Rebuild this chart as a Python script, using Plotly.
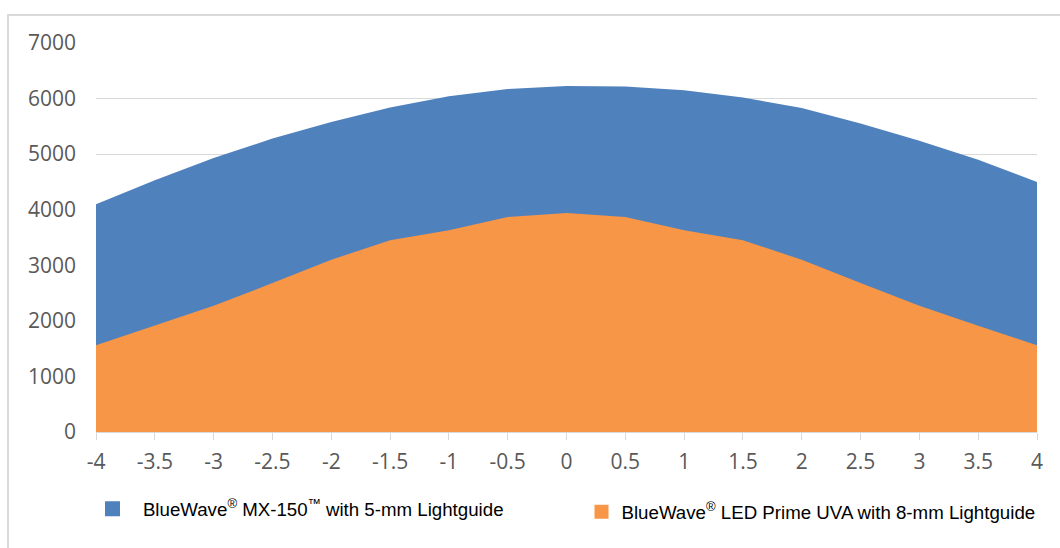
import plotly.graph_objects as go

# ---- data ----
x_vals = [-4, -3.5, -3, -2.5, -2, -1.5, -1, -0.5, 0, 0.5, 1, 1.5, 2, 2.5, 3, 3.5, 4]
x_labels = ["-4", "-3.5", "-3", "-2.5", "-2", "-1.5", "-1", "-0.5", "0",
            "0.5", "1", "1.5", "2", "2.5", "3", "3.5", "4"]
mx150 = [4100, 4530, 4930, 5280, 5580, 5840, 6040, 6170, 6225, 6215,
         6150, 6020, 5830, 5550, 5240, 4900, 4500]
prime_uva = [1560, 1910, 2270, 2680, 3100, 3450, 3630, 3870, 3940, 3870,
             3630, 3450, 3100, 2680, 2270, 1910, 1560]
y_ticks = [0, 1000, 2000, 3000, 4000, 5000, 6000, 7000]

name_blue = "\u00a0\u00a0BlueWave<sup>®</sup> MX-150<sup>™</sup> with 5-mm Lightguide"
name_orange = "BlueWave<sup>®</sup> LED Prime UVA with 8-mm Lightguide"

BLUE = "#4F81BD"
ORANGE = "#F79646"
GRID = "#D9D9D9"
TICK = "#595959"

W, H = 1060, 548
ML, MR, MT, MB = 96, 23, 43, 116
PW, PH = W - ML - MR, H - MT - MB


def px2x(px):
    return (px - ML) / PW


def px2y(py):
    return (H - MB - py) / PH


fig = go.Figure()
fig.add_trace(go.Scatter(x=x_vals, y=mx150, mode="lines", fill="tozeroy",
                         fillcolor=BLUE, line=dict(color=BLUE, width=0),
                         showlegend=False, hoverinfo="x+y"))
fig.add_trace(go.Scatter(x=x_vals, y=prime_uva, mode="lines", fill="tozeroy",
                         fillcolor=ORANGE, line=dict(color=ORANGE, width=0),
                         showlegend=False, hoverinfo="x+y"))
# legend entries
fig.add_trace(go.Scatter(x=[None], y=[None], mode="markers", name=name_blue,
                         marker=dict(symbol="square", size=15, color=BLUE),
                         legend="legend"))
fig.add_trace(go.Scatter(x=[None], y=[None], mode="markers", name=name_orange,
                         marker=dict(symbol="square", size=14, color=ORANGE),
                         legend="legend2"))

legend_font = dict(family="Liberation Sans, Arial", size=18.7, color="#000000")

fig.update_layout(
    width=W, height=H,
    margin=dict(l=ML, r=MR, t=MT, b=MB),
    paper_bgcolor="white", plot_bgcolor="white",
    showlegend=True,
    legend=dict(orientation="h", x=px2x(92.5), xanchor="left",
                y=px2y(509), yanchor="middle", font=legend_font,
                bgcolor="rgba(0,0,0,0)", itemclick=False, itemdoubleclick=False),
    legend2=dict(orientation="h", x=px2x(581.5), xanchor="left",
                 y=px2y(512), yanchor="middle", font=legend_font,
                 bgcolor="rgba(0,0,0,0)", itemclick=False, itemdoubleclick=False),
    xaxis=dict(range=[-4, 4], tickvals=x_vals, ticktext=x_labels,
               showgrid=False, zeroline=False,
               showline=True, linecolor=GRID, linewidth=1,
               ticks="outside", ticklen=7, tickcolor=GRID, tickwidth=1,
               ticklabelstandoff=4,
               tickfont=dict(family="Open Sans", size=21, color=TICK),
               fixedrange=True),
    yaxis=dict(range=[0, 7000], tickvals=y_ticks,
               showgrid=True, gridcolor=GRID, gridwidth=1,
               zeroline=False, showline=False, ticks="",
               ticklabelstandoff=19,
               tickfont=dict(family="Open Sans", size=21, color=TICK),
               fixedrange=True),
    shapes=[dict(type="rect", xref="paper", yref="paper",
                 x0=px2x(8), x1=px2x(1070), y0=px2y(560), y1=px2y(15),
                 line=dict(color=GRID, width=2), fillcolor="rgba(0,0,0,0)",
                 layer="below")],
)

fig.write_html("out.html", config={"displayModeBar": False},
               post_script="document.body.style.margin='0';")
